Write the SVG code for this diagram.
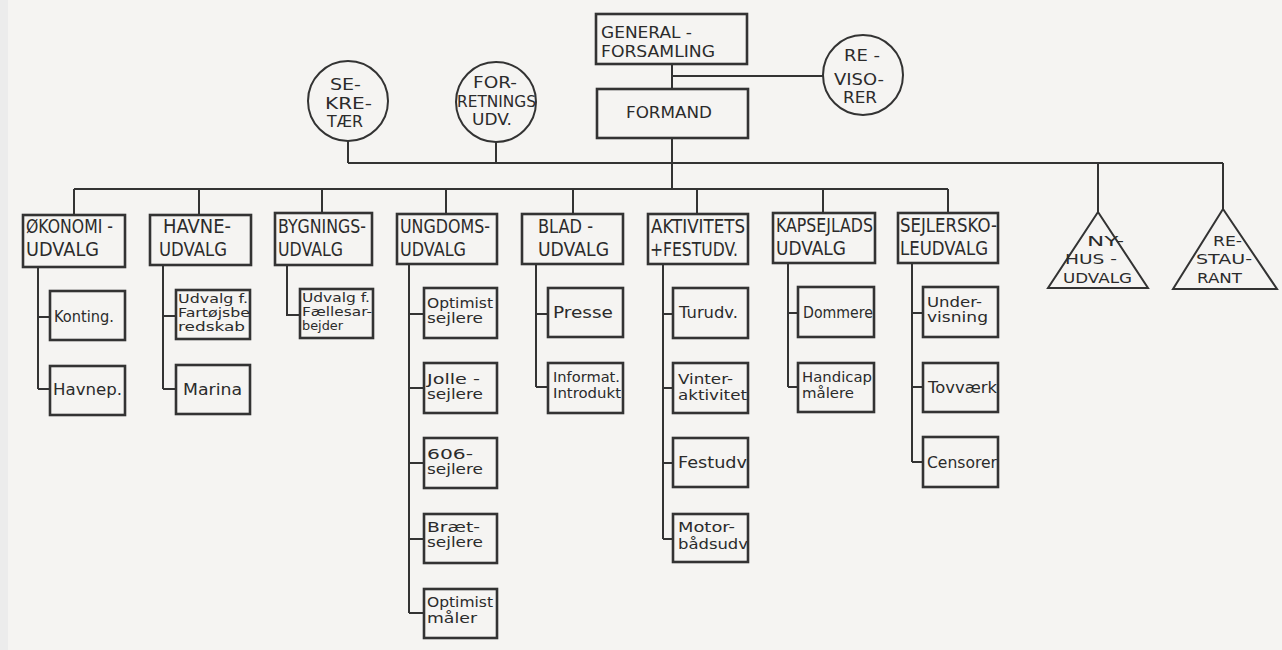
<svg xmlns="http://www.w3.org/2000/svg" width="1282" height="650" viewBox="0 0 1282 650">
<style>
text{font-family:"DejaVu Sans","Liberation Sans",sans-serif;fill:#2b2b2b}
.t{font-size:16px}.h{font-size:19px}.c{font-size:15px}.d{font-size:13.5px}.s{font-size:12.5px}.g{font-size:14px}
.b{fill:none;stroke:#333;stroke-width:2.6}
.n{fill:none;stroke:#333;stroke-width:2}
#connectors path{fill:none;stroke:#333;stroke-width:2}
</style>
<rect x="0" y="0" width="1282" height="650" fill="#f5f4f2"/>
<rect x="0" y="0" width="8" height="650" fill="#ececec"/>
<g id="connectors">
<path d="M672 64V89M672 76H823M672 139V189"/>
<path d="M348 141V163M496 142V163M348 163H1223M1098 163V212M1223 163V209"/>
<path d="M74 189H948M74 189V215M199 189V215M322 189V213M446 189V214M573 189V214M697 189V214M823 189V213M948 189V213"/>
<path d="M38 267V389M38 317H50M38 389H50"/>
<path d="M163 265V389M163 316H176M163 389H176"/>
<path d="M287 265V315H300"/>
<path d="M409 264V613M409 314H424M409 388H424M409 463H424M409 539H424M409 613H424"/>
<path d="M536 264V387M536 314H548M536 387H548"/>
<path d="M663 264V539M663 314H673M663 388H673M663 463H673M663 539H673"/>
<path d="M788 263V387M788 313H798M788 387H798"/>
<path d="M912 263V462M912 313H923M912 387H923M912 462H923"/>
</g>
<g id="generalforsamling"><rect class="b" x="596" y="14" width="151" height="50"/><text class="t" x="601" y="38" textLength="91" lengthAdjust="spacingAndGlyphs">GENERAL -</text><text class="t" x="601" y="57" textLength="114" lengthAdjust="spacingAndGlyphs">FORSAMLING</text></g>
<g id="formand"><rect class="b" x="597" y="89" width="151" height="49"/><text class="t" x="626" y="118" textLength="86" lengthAdjust="spacingAndGlyphs">FORMAND</text></g>
<g id="revisorer"><circle class="n" cx="863" cy="75" r="40"/><text class="t" x="844" y="61" textLength="36" lengthAdjust="spacingAndGlyphs">RE -</text><text class="t" x="834" y="85" textLength="50" lengthAdjust="spacingAndGlyphs">VISO-</text><text class="t" x="843" y="103" textLength="34" lengthAdjust="spacingAndGlyphs">RER</text></g>
<g id="sekretaer"><circle class="n" cx="348" cy="101" r="40"/><text class="t" x="330" y="90" textLength="31" lengthAdjust="spacingAndGlyphs">SE-</text><text class="t" x="325" y="109" textLength="47" lengthAdjust="spacingAndGlyphs">KRE-</text><text class="t" x="327" y="127" textLength="36" lengthAdjust="spacingAndGlyphs">TÆR</text></g>
<g id="forretningsudv"><circle class="n" cx="496" cy="102" r="40"/><text class="t" x="473" y="88" textLength="44" lengthAdjust="spacingAndGlyphs">FOR-</text><text class="t" x="457" y="107" textLength="79" lengthAdjust="spacingAndGlyphs">RETNINGS</text><text class="t" x="472" y="125" textLength="40" lengthAdjust="spacingAndGlyphs">UDV.</text></g>
<g id="nyhusudvalg"><path class="n" d="M1098 212L1148 288H1048Z"/><text class="g" x="1087" y="246" textLength="37" lengthAdjust="spacingAndGlyphs">NY-</text><text class="g" x="1065" y="264" textLength="52" lengthAdjust="spacingAndGlyphs">HUS -</text><text class="g" x="1063" y="283" textLength="69" lengthAdjust="spacingAndGlyphs">UDVALG</text></g>
<g id="restaurant"><path class="n" d="M1223 209L1277 289H1173Z"/><text class="g" x="1213" y="246" textLength="29" lengthAdjust="spacingAndGlyphs">RE-</text><text class="g" x="1196" y="264" textLength="56" lengthAdjust="spacingAndGlyphs">STAU-</text><text class="g" x="1197" y="283" textLength="45" lengthAdjust="spacingAndGlyphs">RANT</text></g>
<g id="okonomiudvalg"><rect class="b" x="23" y="215" width="102" height="52"/><text class="h" x="26" y="233" textLength="87" lengthAdjust="spacingAndGlyphs">ØKONOMI -</text><text class="h" x="26" y="256" textLength="73" lengthAdjust="spacingAndGlyphs">UDVALG</text></g>
<g id="konting"><rect class="b" x="50" y="291" width="75" height="49"/><text class="c" x="54" y="322" textLength="60" lengthAdjust="spacingAndGlyphs">Konting.</text></g>
<g id="havnep"><rect class="b" x="50" y="366" width="75" height="49"/><text class="c" x="53" y="395" textLength="69" lengthAdjust="spacingAndGlyphs">Havnep.</text></g>
<g id="havneudvalg"><rect class="b" x="150" y="215" width="101" height="50"/><text class="h" x="163" y="233" textLength="68" lengthAdjust="spacingAndGlyphs">HAVNE-</text><text class="h" x="159" y="256" textLength="68" lengthAdjust="spacingAndGlyphs">UDVALG</text></g>
<g id="fartojsberedskab"><rect class="b" x="176" y="290" width="74" height="49"/><text class="s" x="178" y="303" textLength="70" lengthAdjust="spacingAndGlyphs">Udvalg f.</text><text class="s" x="178" y="317" textLength="72" lengthAdjust="spacingAndGlyphs">Fartøjsbe</text><text class="s" x="178" y="331" textLength="67" lengthAdjust="spacingAndGlyphs">redskab</text></g>
<g id="marina"><rect class="b" x="176" y="365" width="74" height="49"/><text class="c" x="183" y="395" textLength="59" lengthAdjust="spacingAndGlyphs">Marina</text></g>
<g id="bygningsudvalg"><rect class="b" x="275" y="213" width="97" height="52"/><text class="h" x="278" y="233" textLength="88" lengthAdjust="spacingAndGlyphs">BYGNINGS-</text><text class="h" x="278" y="256" textLength="65" lengthAdjust="spacingAndGlyphs">UDVALG</text></g>
<g id="faellesarbejder"><rect class="b" x="300" y="289" width="73" height="49"/><text class="s" x="302" y="302" textLength="68" lengthAdjust="spacingAndGlyphs">Udvalg f.</text><text class="s" x="302" y="316" textLength="70" lengthAdjust="spacingAndGlyphs">Fællesar-</text><text class="s" x="302" y="330" textLength="41" lengthAdjust="spacingAndGlyphs">bejder</text></g>
<g id="ungdomsudvalg"><rect class="b" x="397" y="214" width="100" height="50"/><text class="h" x="400" y="233" textLength="90" lengthAdjust="spacingAndGlyphs">UNGDOMS-</text><text class="h" x="400" y="256" textLength="66" lengthAdjust="spacingAndGlyphs">UDVALG</text></g>
<g id="optimistsejlere"><rect class="b" x="424" y="288" width="73" height="50"/><text class="d" x="427" y="308" textLength="66" lengthAdjust="spacingAndGlyphs">Optimist</text><text class="d" x="427" y="323" textLength="56" lengthAdjust="spacingAndGlyphs">sejlere</text></g>
<g id="jollesejlere"><rect class="b" x="424" y="363" width="73" height="50"/><text class="d" x="427" y="384" textLength="53" lengthAdjust="spacingAndGlyphs">Jolle -</text><text class="d" x="427" y="399" textLength="56" lengthAdjust="spacingAndGlyphs">sejlere</text></g>
<g id="sejlere606"><rect class="b" x="424" y="438" width="73" height="50"/><text class="d" x="427" y="459" textLength="46" lengthAdjust="spacingAndGlyphs">606-</text><text class="d" x="427" y="474" textLength="56" lengthAdjust="spacingAndGlyphs">sejlere</text></g>
<g id="braetsejlere"><rect class="b" x="424" y="514" width="73" height="49"/><text class="d" x="427" y="532" textLength="53" lengthAdjust="spacingAndGlyphs">Bræt-</text><text class="d" x="427" y="547" textLength="56" lengthAdjust="spacingAndGlyphs">sejlere</text></g>
<g id="optimistmaaler"><rect class="b" x="424" y="589" width="73" height="49"/><text class="d" x="427" y="607" textLength="66" lengthAdjust="spacingAndGlyphs">Optimist</text><text class="d" x="427" y="623" textLength="50" lengthAdjust="spacingAndGlyphs">måler</text></g>
<g id="bladudvalg"><rect class="b" x="522" y="214" width="101" height="50"/><text class="h" x="538" y="233" textLength="55" lengthAdjust="spacingAndGlyphs">BLAD -</text><text class="h" x="538" y="256" textLength="71" lengthAdjust="spacingAndGlyphs">UDVALG</text></g>
<g id="presse"><rect class="b" x="548" y="288" width="75" height="49"/><text class="c" x="553" y="318" textLength="60" lengthAdjust="spacingAndGlyphs">Presse</text></g>
<g id="informat"><rect class="b" x="548" y="363" width="75" height="50"/><text class="d" x="553" y="382" textLength="67" lengthAdjust="spacingAndGlyphs">Informat.</text><text class="d" x="553" y="398" textLength="68" lengthAdjust="spacingAndGlyphs">Introdukt</text></g>
<g id="aktivitetsfestudv"><rect class="b" x="648" y="214" width="100" height="50"/><text class="h" x="651" y="233" textLength="94" lengthAdjust="spacingAndGlyphs">AKTIVITETS</text><text class="h" x="650" y="256" textLength="88" lengthAdjust="spacingAndGlyphs">+FESTUDV.</text></g>
<g id="turudv"><rect class="b" x="673" y="288" width="75" height="50"/><text class="c" x="679" y="318" textLength="59" lengthAdjust="spacingAndGlyphs">Turudv.</text></g>
<g id="vinteraktivitet"><rect class="b" x="673" y="363" width="75" height="50"/><text class="d" x="678" y="384" textLength="55" lengthAdjust="spacingAndGlyphs">Vinter-</text><text class="d" x="678" y="400" textLength="69" lengthAdjust="spacingAndGlyphs">aktivitet</text></g>
<g id="festudv"><rect class="b" x="673" y="438" width="75" height="49"/><text class="c" x="678" y="468" textLength="69" lengthAdjust="spacingAndGlyphs">Festudv</text></g>
<g id="motorbaadsudv"><rect class="b" x="673" y="514" width="75" height="48"/><text class="d" x="678" y="532" textLength="57" lengthAdjust="spacingAndGlyphs">Motor-</text><text class="d" x="678" y="549" textLength="70" lengthAdjust="spacingAndGlyphs">bådsudv</text></g>
<g id="kapsejladsudvalg"><rect class="b" x="773" y="213" width="102" height="50"/><text class="h" x="776" y="232" textLength="97" lengthAdjust="spacingAndGlyphs">KAPSEJLADS</text><text class="h" x="776" y="255" textLength="70" lengthAdjust="spacingAndGlyphs">UDVALG</text></g>
<g id="dommere"><rect class="b" x="798" y="287" width="76" height="50"/><text class="c" x="803" y="318" textLength="70" lengthAdjust="spacingAndGlyphs">Dommere</text></g>
<g id="handicapmaalere"><rect class="b" x="798" y="363" width="76" height="49"/><text class="d" x="802" y="382" textLength="70" lengthAdjust="spacingAndGlyphs">Handicap</text><text class="d" x="802" y="398" textLength="52" lengthAdjust="spacingAndGlyphs">målere</text></g>
<g id="sejlerskoleudvalg"><rect class="b" x="898" y="213" width="100" height="50"/><text class="h" x="900" y="232" textLength="97" lengthAdjust="spacingAndGlyphs">SEJLERSKO-</text><text class="h" x="900" y="255" textLength="88" lengthAdjust="spacingAndGlyphs">LEUDVALG</text></g>
<g id="undervisning"><rect class="b" x="923" y="287" width="75" height="50"/><text class="d" x="927" y="307" textLength="55" lengthAdjust="spacingAndGlyphs">Under-</text><text class="d" x="927" y="322" textLength="61" lengthAdjust="spacingAndGlyphs">visning</text></g>
<g id="tovvaerk"><rect class="b" x="923" y="363" width="75" height="49"/><text class="c" x="928" y="393" textLength="69" lengthAdjust="spacingAndGlyphs">Tovværk</text></g>
<g id="censorer"><rect class="b" x="923" y="437" width="75" height="50"/><text class="c" x="927" y="468" textLength="70" lengthAdjust="spacingAndGlyphs">Censorer</text></g>
</svg>
